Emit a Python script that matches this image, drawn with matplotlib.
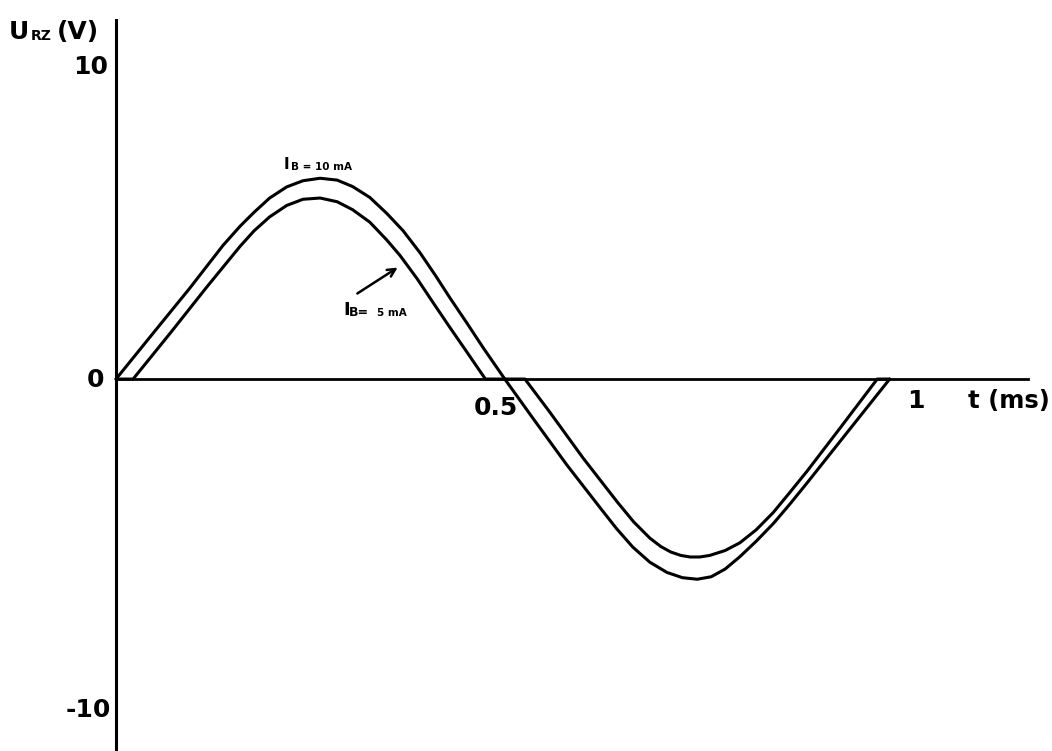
import matplotlib
matplotlib.use('Agg')
import matplotlib.pyplot as plt
from matplotlib.transforms import IdentityTransform

# curve IB = 10 mA (t in ms, U in V)
t_10 = [0, 0.048, 0.095, 0.138, 0.160, 0.178, 0.198, 0.220, 0.241, 0.263, 0.285,
        0.305, 0.327, 0.349, 0.370, 0.392, 0.412, 0.430, 0.452, 0.473, 0.501,
        0.537, 0.581, 0.624, 0.645, 0.666, 0.688, 0.710, 0.730, 0.749, 0.767,
        0.785, 0.804, 0.825, 0.847, 0.868, 0.890, 0.933, 0.997]
u_10 = [0, 1.49, 2.94, 4.33, 4.95, 5.40, 5.86, 6.22, 6.42, 6.50, 6.44,
        6.23, 5.88, 5.36, 4.80, 4.08, 3.34, 2.64, 1.82, 1.02, 0,
        -1.26, -2.78, -4.17, -4.84, -5.44, -5.93, -6.26, -6.43, -6.48, -6.40,
        -6.15, -5.75, -5.25, -4.68, -4.06, -3.38, -2.02, 0]

# curve IB = 5 mA
t_5 = [0, 0.022, 0.070, 0.117, 0.160, 0.178, 0.198, 0.220, 0.241, 0.263, 0.285,
       0.305, 0.327, 0.349, 0.366, 0.388, 0.409, 0.430, 0.452, 0.476, 0.527,
       0.559, 0.602, 0.646, 0.667, 0.688, 0.702, 0.715, 0.728, 0.740, 0.752,
       0.765, 0.785, 0.804, 0.825, 0.847, 0.868, 0.890, 0.933, 0.981, 0.997]
u_5 = [0, 0, 1.49, 2.98, 4.30, 4.80, 5.25, 5.62, 5.82, 5.86, 5.74,
       5.48, 5.08, 4.50, 4.00, 3.25, 2.46, 1.68, 0.88, 0, 0,
       -1.07, -2.56, -3.98, -4.62, -5.15, -5.42, -5.60, -5.71, -5.76, -5.76,
       -5.71, -5.55, -5.30, -4.88, -4.32, -3.68, -3.00, -1.59, 0, 0]

W, H = 1052, 751
FONT = 'DejaVu Sans'

fig = plt.figure(figsize=(W / 100, H / 100), dpi=100)
ax = fig.add_axes([0, 0, 1, 1])
ax.set_xlim(-0.1495, 1.2062)
ax.set_ylim(-12.04, 12.27)

ax.plot(t_10, u_10, color='black', lw=2.2, solid_joinstyle='round', solid_capstyle='round')
ax.plot(t_5, u_5, color='black', lw=2.2, solid_joinstyle='round', solid_capstyle='round')

# axes drawn as spines crossing at the origin
for s in ['top', 'right']:
    ax.spines[s].set_visible(False)
ax.spines['left'].set_position(('data', 0))
ax.spines['bottom'].set_position(('data', 0))
ax.spines['left'].set_bounds(-12.04, 11.62)
ax.spines['bottom'].set_bounds(0, 1.175)
ax.spines['left'].set_linewidth(2.2)
ax.spines['bottom'].set_linewidth(2.0)
ax.set_xticks([])
ax.set_yticks([])


def px_text(x, y, s, size, **kw):
    # place text by picture pixel position (y from the top), baseline by default
    kw.setdefault('fontweight', 'bold')
    kw.setdefault('va', 'baseline')
    ax.text(x, H - y, s, fontsize=size, family=FONT, transform=IdentityTransform(), **kw)


# axis labels
px_text(9, 39, 'U', 18)
px_text(31, 40, 'RZ', 10)
px_text(57, 39, '(V)', 18)
px_text(108, 74, '10', 18, ha='right')
px_text(104, 387, '0', 18, ha='right')
px_text(111, 717, '-10', 18, ha='right')
px_text(496, 415, '0.5', 18, ha='center')
px_text(916, 408, '1', 18, ha='center')
px_text(968, 408, 't (ms)', 17.5)

# curve labels
px_text(284, 169, 'I', 11)
px_text(291, 170, 'B = 10 mA', 7.5)
px_text(343, 315, 'I', 13)
px_text(349, 316, 'B=', 9)
px_text(377, 316, '5 mA', 7.5)

ax.annotate('', xy=(400, H - 266), xytext=(355, H - 295),
            xycoords=IdentityTransform(), textcoords=IdentityTransform(),
            arrowprops=dict(arrowstyle='->', color='black', lw=1.8,
                            mutation_scale=14))

fig.savefig('out.png', dpi=100, facecolor='white')
